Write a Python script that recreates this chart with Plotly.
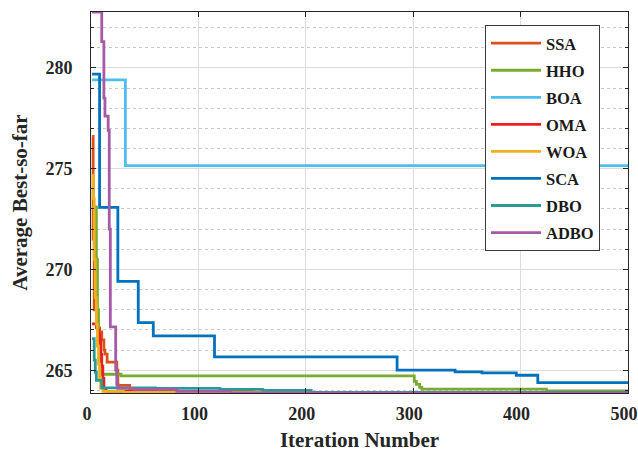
import plotly.graph_objects as go

# ---- data (iteration, average best-so-far) ----
names = ["SSA", "HHO", "BOA", "OMA", "WOA", "SCA", "DBO", "ADBO"]
colors = ["#D95319", "#77AC30", "#4DBEEE", "#EE1D23", "#EDB120", "#0072BD", "#2A9A96", "#A65AA6"]

ssa_x = [1, 2, 3, 5, 8, 10, 12, 13, 15, 22, 24, 25, 34, 36, 80, 150, 500]
ssa_y = [276.6, 271.5, 268.0, 267.1, 266.9, 266.5, 266.0, 265.8, 265.4, 265.4, 265.0, 264.25, 264.25, 264.0, 263.95, 263.9, 263.9]

hho_x = [1, 5, 6, 7, 8, 9, 10, 28, 301, 303, 306, 308, 424, 500]
hho_y = [273.1, 270.5, 268.0, 266.5, 265.5, 265.0, 264.8, 264.72, 264.45, 264.3, 264.15, 264.06, 263.98, 263.98]

boa_x = [1, 32, 500]
boa_y = [279.4, 275.15, 275.15]

oma_x = [1, 6, 7, 8, 9, 10, 11, 12, 14, 60, 500]
oma_y = [267.3, 267.0, 266.8, 266.5, 265.8, 265.2, 264.6, 264.1, 263.95, 263.9, 263.9]

woa_x = [1, 2, 3, 4, 5, 6, 7, 8, 9, 11, 30, 500]
woa_y = [274.65, 273.5, 270.5, 268.6, 267.3, 266.2, 265.3, 264.6, 264.1, 263.95, 263.9, 263.88]

sca_x = [1, 8, 25, 44, 58, 115, 285, 339, 364, 396, 416, 500]
sca_y = [279.69, 273.08, 269.41, 267.36, 266.70, 265.66, 265.0, 264.92, 264.87, 264.75, 264.38, 264.38]

dbo_x = [1, 3, 4, 5, 10, 11, 60, 120, 160, 205, 500]
dbo_y = [266.57, 265.5, 264.9, 264.5, 264.14, 264.12, 264.1, 264.05, 264.0, 263.9, 263.9]

adbo_x = [1, 10, 12, 13, 16, 17, 18, 23, 24, 25, 40, 80, 130, 500]
adbo_y = [282.77, 281.3, 278.5, 277.6, 276.9, 272.0, 267.15, 265.0, 264.3, 264.1, 264.05, 263.95, 263.88, 263.87]

series_x = [ssa_x, hho_x, boa_x, oma_x, woa_x, sca_x, dbo_x, adbo_x]
series_y = [ssa_y, hho_y, boa_y, oma_y, woa_y, sca_y, dbo_y, adbo_y]

x_ticks = [0, 100, 200, 300, 400, 500]
x_ticklabels = ["0", "100", "200", "300", "400", "500"]
y_ticks = [265, 270, 275, 280]
y_range = [263.87, 282.77]
x_range = [0, 500]

FONT = "Liberation Serif"
AX = "#262626"

fig = go.Figure()
for i, (n, c, xs, ys) in enumerate(zip(names, colors, series_x, series_y)):
    fig.add_trace(go.Scatter(
        x=xs, y=ys, mode="lines", name=n, legendgroup=n,
        line=dict(color=c, width=2.8, shape="hv"),
    ))

fig.update_layout(
    width=638, height=452,
    margin=dict(l=91, r=10, t=12, b=59, autoexpand=False),
    paper_bgcolor="white", plot_bgcolor="white",
    font=dict(family=FONT, color=AX, weight="bold"),
    showlegend=True,
    legend=dict(
        x=0.7337, y=0.966, xanchor="left", yanchor="top",
        bgcolor="white", bordercolor="#3a3a3a", borderwidth=1,
        font=dict(family=FONT, size=16.5, color="#1a1a1a", weight="bold"),
        tracegroupgap=2.6, itemwidth=50,
    ),
)

fig.update_xaxes(
    range=x_range, tickvals=x_ticks, ticktext=x_ticklabels,
    automargin=False,
    showline=True, linecolor=AX, linewidth=1, mirror="ticks",
    ticks="inside", ticklen=5, tickcolor=AX,
    showgrid=True, gridcolor="#dcdcdc", gridwidth=1, zeroline=False,
    tickfont=dict(family=FONT, size=18, color=AX, weight="bold"),
    ticklabelstandoff=4, ticklabelshift=-4, ticklabeloverflow="allow",
    title=dict(text="Iteration Number", font=dict(family=FONT, size=21, color=AX, weight="bold"), standoff=9),
)
fig.update_yaxes(
    range=y_range, tickvals=y_ticks, ticktext=[str(v) for v in y_ticks],
    automargin=False,
    showline=True, linecolor=AX, linewidth=1, mirror="ticks",
    ticks="inside", ticklen=5, tickcolor=AX,
    showgrid=True, gridcolor="#dcdcdc", gridwidth=1, zeroline=False,
    minor=dict(dtick=1, tick0=265, showgrid=True, gridcolor="#c8c8c8", griddash="dot",
               ticks="inside", ticklen=3, tickcolor=AX),
    tickfont=dict(family=FONT, size=18, color=AX, weight="bold"),
    ticklabelstandoff=14, ticklabeloverflow="allow",
    title=dict(text="Average Best-so-far", font=dict(family=FONT, size=21, color=AX, weight="bold"), standoff=12),
)

fig.write_html("out.html")
